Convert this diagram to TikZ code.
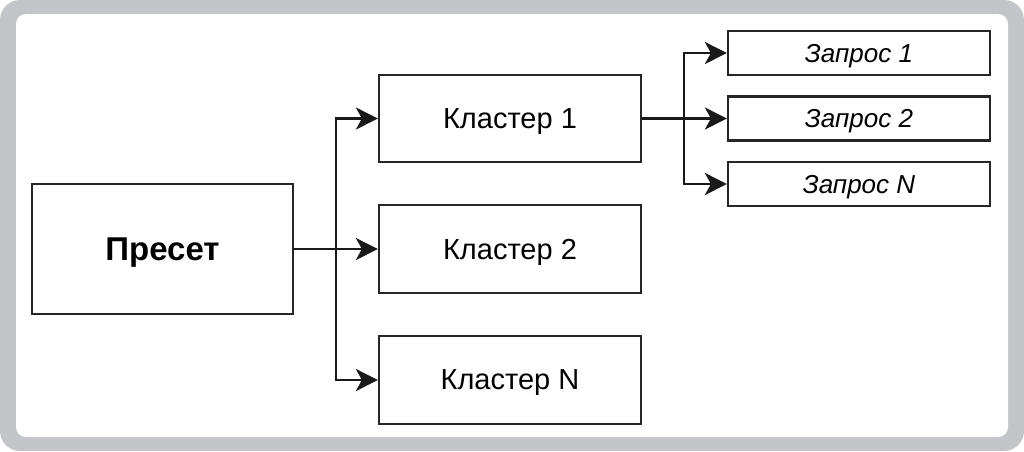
\documentclass[tikz,border=0pt]{standalone}
\usepackage{fontspec}
\setmainfont{Liberation Sans}
\usetikzlibrary{arrows.meta}
\definecolor{framegray}{RGB}{196,197,201}

\begin{document}
\begin{tikzpicture}[x=1pt,y=-1pt,
  box/.style={draw=black!85,line width=2.2pt,minimum width=262pt,inner sep=0pt,text depth=0pt,font=\fontsize{29}{34}\selectfont},
  querybox/.style={box,minimum height=44pt,font=\fontsize{26}{30}\selectfont\itshape},
  link/.style={line width=2.4pt,black!90,-{Stealth[length=22pt 0 0,width=22pt 0 0,inset=6pt]}}]
\useasboundingbox (0,0) rectangle (1024,451);
\fill[white] (0,0) rectangle (1024,451);
\fill[framegray,rounded corners=20pt] (0,0) rectangle (1024,451);
\fill[white,rounded corners=10pt] (16,14) rectangle (1008,437);

% preset and clusters
\node[box,minimum width=261pt,minimum height=130pt,font=\fontsize{33}{38}\selectfont\bfseries] (preset) at (162.5,249) {Пресет};
\node[box,minimum height=87pt] (cl1) at (510,118.5) {Кластер 1};
\node[box,minimum height=88pt] (cl2) at (510,249) {Кластер 2};
\node[box,minimum height=88pt] (cln) at (510,380) {Кластер N};

% queries of cluster 1
\node[querybox] (q1) at (859,53) {Запрос 1};
\node[querybox] (q2) at (859,118.5) {Запрос 2};
\node[querybox] (qn) at (859,184) {Запрос N};

\coordinate (split) at (336,249);
\coordinate (qsplit) at (684,118.5);

\foreach \c in {cl1,cl2,cln}
\draw[link] (preset.east) -- (split) |- (\c.west);

\foreach \q in {q1,q2,qn}
\draw[link] (cl1.east) -- (qsplit) |- (\q.west);
\end{tikzpicture}
\end{document}
